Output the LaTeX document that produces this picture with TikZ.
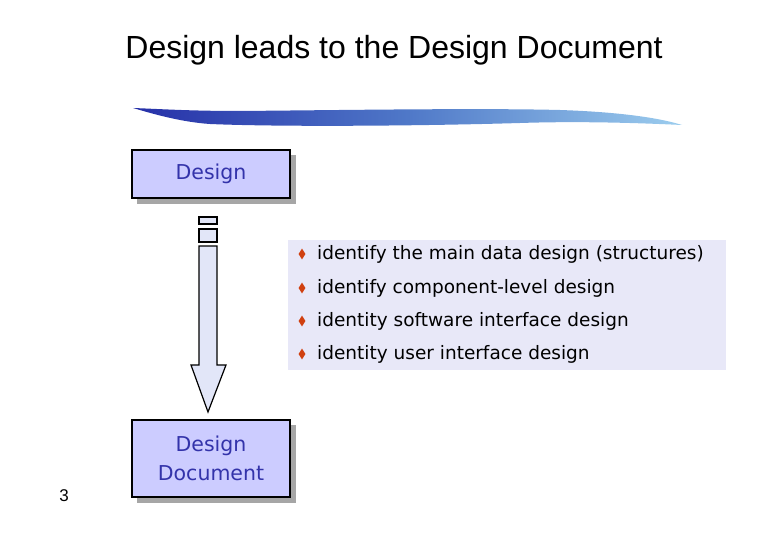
\documentclass[tikz,border=0pt]{standalone}
\usepackage{fontspec}
\setmainfont{Liberation Sans}
\newfontfamily\comic{DejaVu Sans}
\usetikzlibrary{shapes.geometric}
\definecolor{boxfill}{HTML}{CCCCFF}
\definecolor{boxtext}{HTML}{3333AA}
\definecolor{listfill}{HTML}{E8E8F8}
\definecolor{arrowfill}{HTML}{E2E6F8}
\definecolor{bulletc}{HTML}{D04010}
\definecolor{brushA}{HTML}{2630A8}
\definecolor{brushB}{HTML}{4F78C8}
\definecolor{brushC}{HTML}{9CCDEE}
\tikzset{
  stagebox/.style={draw=black, line width=1.6pt, fill=boxfill, minimum width=158pt, inner sep=0pt, align=center, font=\comic\fontsize{20.5}{29}\selectfont, text=boxtext},
  shadowbox/.style={fill=black!35, draw=none},
  bullet/.style={diamond, fill=bulletc, inner sep=0pt, minimum width=7pt, minimum height=11pt},
  item/.style={anchor=west, inner sep=0pt, font=\comic\fontsize{18.5}{22}\selectfont},
  arrowpart/.style={draw=black, line width=1.2pt, fill=arrowfill}
}
\begin{document}
\begin{tikzpicture}[x=1pt,y=-1pt]
\useasboundingbox (0,0) rectangle (780,540);
% title
\node[font=\fontsize{32}{38}\selectfont] (title) at (394,50) {Design leads to the Design Document};
% brush stroke
\shade[left color=brushA, right color=brushC, middle color=brushB]
  (133,108) .. controls (160,109) and (190,111) .. (240,111)
  .. controls (350,110) and (480,108) .. (560,110)
  .. controls (620,112) and (660,118) .. (682,125)
  .. controls (640,123) and (580,121) .. (520,123)
  .. controls (420,126) and (280,127) .. (210,124)
  .. controls (180,122) and (150,113) .. (133,108) -- cycle;
% design box
\fill[shadowbox] (137,155) rectangle (296,204);
\node[stagebox, minimum height=48pt] (design) at (211,174) {Design};
% doc box
\fill[shadowbox] (137,425) rectangle (296,503);
\node[stagebox, minimum height=77pt] (doc) at (211,458.5) {Design\\Document};
% block arrow
\draw[arrowpart] (199,217) rectangle (217,224);
\draw[arrowpart] (199,229) rectangle (217,242);
\draw[arrowpart] (199,246) -- (217,246) -- (217,365) -- (226,365) -- (208,412) -- (191,365) -- (199,365) -- cycle;
% list panel
\fill[listfill] (288,240) rectangle (726,370);
\node[bullet] (b1) at (302,254) {};
\node[item] (t1) at (317,254) {identify the main data design (structures)};
\node[bullet] (b2) at (302,288) {};
\node[item] (t2) at (317,288) {identify component-level design};
\node[bullet] (b3) at (302,321) {};
\node[item] (t3) at (317,321) {identity software interface design};
\node[bullet] (b4) at (302,354) {};
\node[item] (t4) at (317,354) {identity user interface design};
% page number
\node[font=\fontsize{17}{20}\selectfont] (pg) at (64,496) {3};
\end{tikzpicture}
\end{document}
